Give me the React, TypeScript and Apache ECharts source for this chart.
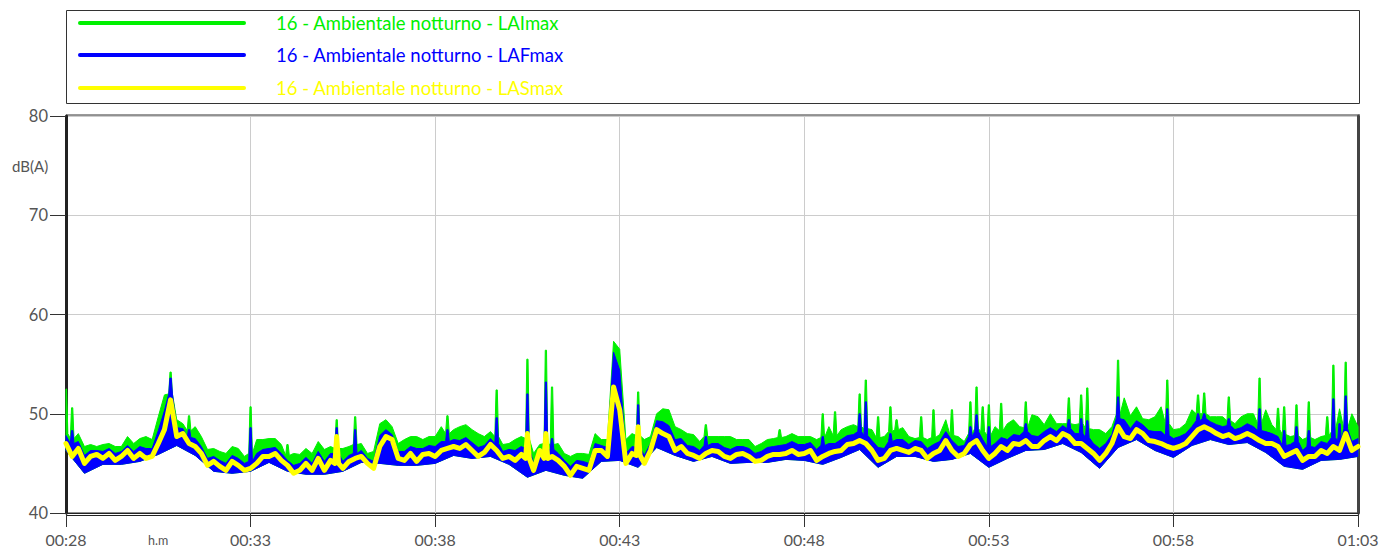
import React, { useEffect, useRef } from "react";
import * as echarts from "echarts";

// ---- time axis (seconds from 00:28:00) ----
const STEP_S = 10;
const LOW_STEP_S = 30;
const X_MAX_S = 2100;
const X_TICK_S = 300;
const X_LABELS = ["00:28", "00:33", "00:38", "00:43", "00:48", "00:53", "00:58", "01:03"];
const Y_MIN = 40;
const Y_MAX = 80;
const Y_STEP = 10;

const NAMES = [
  "16 - Ambientale notturno - LAImax",
  "16 - Ambientale notturno - LAFmax",
  "16 - Ambientale notturno - LASmax",
];
const COLORS = ["#00f000", "#0000ff", "#ffff00"];

// ---- LAImax (green) upper envelope, every 10 s ----
const LAI_BASE = [
  48.0, 47.5, 48.0, 46.7, 46.9, 46.7, 46.9, 47.0, 46.7, 46.7,
  47.7, 47.0, 47.5, 47.7, 47.4, 49.7, 51.9, 52.0, 49.4, 49.0,
  48.3, 48.7, 47.7, 46.4, 46.5, 46.2, 46.0, 46.7, 46.5, 45.7,
  46.0, 47.4, 47.4, 47.5, 47.5, 46.9, 45.8, 46.0, 45.9, 46.5,
  46.0, 47.2, 46.4, 46.7, 46.5, 46.5, 46.7, 46.9, 47.0, 46.0,
  46.2, 49.0, 49.4, 48.7, 47.0, 47.4, 47.7, 47.7, 47.4, 47.7,
  47.7, 48.7, 48.0, 48.4, 48.7, 48.9, 48.4, 48.0, 47.7, 48.2,
  47.7, 46.9, 47.0, 47.4, 47.7, 47.5, 46.0, 46.9, 47.0, 46.9,
  47.0, 46.0, 45.7, 46.0, 46.0, 45.9, 48.0, 47.4, 47.4, 57.3,
  56.5, 47.4, 48.0, 47.8, 47.4, 47.7, 50.0, 50.5, 50.4, 48.7,
  48.4, 48.0, 47.9, 47.2, 47.7, 47.7, 47.7, 47.7, 47.7, 47.4,
  47.4, 47.4, 46.7, 47.0, 47.4, 47.5, 47.6, 47.7, 48.0, 47.7,
  47.7, 47.7, 47.4, 47.6, 48.7, 47.8, 48.4, 48.7, 48.9, 48.7,
  48.5, 48.4, 47.6, 47.7, 48.2, 48.4, 48.6, 47.7, 47.5, 47.6,
  47.4, 47.6, 47.9, 49.4, 47.8, 47.7, 47.2, 48.0, 48.5, 48.2,
  47.8, 48.7, 48.3, 49.0, 49.4, 48.7, 48.6, 49.9, 49.7, 48.9,
  50.0, 49.0, 49.0, 49.0, 48.9, 49.0, 48.5, 48.4, 48.4, 48.0,
  48.7, 49.9, 51.6, 49.8, 50.7, 49.5, 49.4, 49.7, 50.7, 49.0,
  48.4, 48.5, 49.0, 50.4, 50.0, 50.0, 49.7, 49.7, 49.7, 49.3,
  49.0, 49.7, 50.0, 50.0, 49.0, 50.4, 48.9, 48.4, 47.9, 47.7,
  47.8, 47.4, 47.6, 47.4, 47.7, 47.8, 48.2, 50.5, 48.5, 50.0,
  48.7,
];
// [sample index, peak dB]
const LAI_SPIKES: [number, number][] = [
  [0, 52.5], [1, 50.6], [17, 54.2], [20, 49.8], [30, 50.7], [36, 46.9], [44, 49.4], [47, 49.7],
  [62, 49.8], [70, 52.4], [75, 55.5], [78, 56.4], [79, 52.7], [93, 52.2], [104, 48.9], [116, 48.4],
  [123, 50.0], [125, 50.2], [129, 52.0], [130, 53.4], [132, 49.7], [134, 50.7], [135, 49.4],
  [139, 49.7], [141, 50.4], [144, 50.4], [147, 51.2], [148, 52.7], [149, 50.7], [150, 50.9],
  [152, 51.05], [156, 51.2], [163, 51.6], [165, 51.9], [166, 52.6], [171, 55.4], [179, 53.4],
  [184, 51.9], [185, 52.1], [189, 51.7], [194, 53.6], [197, 50.55], [198, 50.7], [200, 50.9],
  [202, 51.2], [205, 49.7], [206, 54.9], [208, 55.2],
];

// ---- LAFmax (blue) upper envelope, every 10 s ----
const LAF_BASE = [
  47.8, 47.0, 47.2, 45.8, 46.3, 46.3, 46.2, 46.5, 46.0, 46.2,
  46.8, 46.2, 46.7, 46.5, 46.5, 48.3, 50.3, 52.0, 48.6, 48.5,
  47.6, 47.5, 46.7, 45.5, 45.7, 45.3, 45.0, 45.8, 45.5, 45.0,
  45.2, 46.0, 46.4, 46.5, 46.6, 46.0, 45.3, 44.8, 45.0, 45.6,
  45.0, 46.2, 45.2, 46.0, 46.0, 45.2, 45.8, 46.0, 46.3, 45.5,
  45.2, 47.8, 48.4, 47.9, 46.2, 46.2, 46.7, 46.5, 46.5, 46.8,
  46.7, 47.2, 47.2, 47.4, 47.3, 47.6, 47.1, 46.6, 46.8, 47.5,
  47.0, 46.2, 46.4, 46.3, 46.7, 46.5, 45.0, 46.3, 46.3, 46.4,
  46.0, 45.3, 44.7, 45.3, 45.2, 45.0, 47.0, 46.8, 46.6, 56.2,
  54.4, 46.0, 46.7, 46.6, 45.8, 47.0, 49.3, 49.2, 48.8, 47.4,
  47.5, 46.8, 46.7, 46.3, 46.8, 47.0, 47.0, 46.6, 46.4, 46.7,
  46.7, 46.5, 46.0, 46.2, 46.6, 46.7, 46.8, 46.9, 47.2, 46.9,
  46.9, 47.1, 46.4, 46.8, 47.0, 47.0, 47.4, 47.8, 47.9, 48.2,
  47.8, 47.3, 46.6, 46.5, 47.2, 47.4, 47.4, 46.9, 47.3, 47.2,
  46.5, 46.9, 47.2, 48.2, 47.3, 46.7, 46.8, 47.7, 48.2, 47.4,
  46.7, 47.0, 47.6, 47.4, 47.9, 47.8, 48.2, 47.8, 47.7, 48.2,
  48.6, 48.2, 48.8, 48.5, 48.0, 48.0, 47.6, 47.0, 46.5, 47.0,
  47.9, 49.5, 49.4, 48.5, 49.3, 48.9, 48.3, 48.2, 48.2, 47.8,
  47.5, 47.7, 48.0, 48.7, 49.3, 49.5, 49.2, 48.9, 48.7, 48.8,
  48.4, 48.6, 49.0, 48.7, 48.3, 48.2, 48.0, 47.7, 46.8, 46.9,
  47.2, 46.3, 46.7, 46.6, 47.2, 47.0, 47.6, 47.3, 48.5, 47.2,
  47.5,
];
const LAF_SPIKES: [number, number][] = [
  [1, 48.3], [17, 53.6], [20, 48.4], [30, 48.6], [44, 48.6], [47, 48.4], [62, 48.4], [70, 49.6],
  [75, 52.0], [78, 53.2], [79, 47.5], [93, 50.9], [104, 47.7], [123, 47.7], [129, 50.0], [130, 51.2],
  [134, 48.0], [147, 48.7], [148, 49.9], [150, 48.7], [156, 49.0], [163, 49.4], [165, 49.5],
  [166, 49.3], [171, 51.7], [179, 50.5], [184, 50.0], [185, 50.0], [189, 49.5], [194, 50.5],
  [198, 48.3], [200, 48.7], [202, 48.3], [206, 51.5], [207, 49.0], [208, 51.8],
];

// ---- lower envelope of the LAFmax trace, every 30 s ----
const LAF_LOW = [
  46.3, 44.0, 44.9, 44.9, 45.2, 45.9, 46.8, 45.8, 44.2, 44.0,
  44.2, 45.1, 44.2, 43.9, 43.9, 44.2, 45.1, 45.0, 44.8, 44.8,
  45.0, 45.8, 45.5, 45.7, 44.9, 43.6, 44.3, 43.8, 43.5, 45.2,
  45.3, 44.6, 46.6, 45.8, 45.2, 45.7, 45.0, 45.1, 45.1, 45.4,
  45.3, 44.9, 45.6, 46.4, 44.6, 45.7, 45.7, 45.2, 45.4, 46.0,
  44.6, 45.5, 46.3, 46.4, 47.0, 46.1, 44.5, 46.6, 47.4, 46.3,
  45.6, 46.8, 47.4, 46.9, 47.1, 46.1, 44.7, 44.4, 45.3, 45.4,
  45.7,
];

// ---- LASmax (yellow), every 10 s ----
const LAS_BASE = [
  47.0, 45.7, 46.5, 45.0, 45.7, 45.9, 45.5, 46.0, 45.3, 45.7,
  46.3, 45.5, 46.0, 45.5, 45.7, 47.0, 48.4, 51.4, 47.7, 48.0,
  47.0, 46.7, 46.0, 44.8, 45.2, 44.7, 44.3, 45.2, 44.8, 44.3,
  44.5, 45.0, 45.7, 45.7, 46.0, 45.3, 44.8, 44.0, 44.3, 45.0,
  44.3, 45.5, 44.3, 45.3, 45.0, 44.5, 45.2, 45.5, 45.7, 45.0,
  44.5, 46.7, 47.7, 47.4, 45.5, 45.3, 46.0, 45.2, 45.9, 46.0,
  45.7, 46.3, 46.5, 46.7, 46.5, 46.9, 46.3, 45.7, 46.1, 46.9,
  46.3, 45.5, 45.7, 45.3, 45.9, 45.5, 44.3, 46.3, 45.5, 45.7,
  45.3, 44.7, 43.8, 44.7, 44.5, 44.3, 46.3, 46.3, 45.7, 52.7,
  50.4, 45.0, 46.0, 45.8, 45.0, 46.3, 48.4, 48.0, 47.7, 46.3,
  46.7, 46.0, 45.8, 45.5, 46.0, 46.3, 46.2, 45.7, 45.5, 45.9,
  46.0, 45.7, 45.2, 45.3, 45.7, 45.9, 45.9, 46.0, 46.3, 45.9,
  46.0, 46.3, 45.3, 45.7, 46.0, 46.2, 46.3, 46.9, 47.0, 47.3,
  47.0, 46.3, 45.3, 45.5, 46.3, 46.5, 46.3, 46.1, 46.5, 46.3,
  45.5, 46.0, 46.3, 47.3, 46.3, 45.7, 46.0, 46.9, 47.3, 46.3,
  45.5, 46.0, 46.7, 46.3, 47.0, 46.9, 47.3, 46.7, 46.7, 47.3,
  47.7, 47.3, 48.0, 47.7, 47.0, 47.0, 46.5, 46.0, 45.3, 46.0,
  47.0, 48.7, 47.7, 47.5, 48.4, 48.0, 47.3, 47.2, 47.0, 46.7,
  46.5, 46.7, 47.0, 47.7, 48.4, 48.7, 48.4, 48.0, 47.7, 47.9,
  47.5, 47.7, 48.0, 47.7, 47.3, 47.0, 47.0, 46.7, 45.7, 46.0,
  46.3, 45.3, 45.7, 45.7, 46.3, 46.0, 46.7, 46.3, 48.0, 46.3,
  46.7,
];
const LAS_SPIKES: [number, number][] = [[44, 47.7], [75, 48.0], [78, 48.0], [93, 48.7]];

const FONT = "Lato, 'DejaVu Sans', sans-serif";

// flatTop: spike drawn as a narrow bar; otherwise as a sharp peak
function tracePoints(base: number[], spikes: [number, number][], flatTop: boolean): number[][] {
  const m = new Map<number, number>(spikes);
  const pts: number[][] = [];
  base.forEach((v, i) => {
    const t = i * STEP_S;
    const p = m.get(i);
    if (p === undefined) {
      pts.push([t, v]);
    } else if (flatTop) {
      pts.push(
        [Math.max(0, t - 3), v],
        [Math.max(0, t - 1), p],
        [Math.min(X_MAX_S, t + 1), p],
        [Math.min(X_MAX_S, t + 3), v]
      );
    } else {
      pts.push([Math.max(0, t - 3), v], [t, p], [Math.min(X_MAX_S, t + 3), v]);
    }
  });
  return pts;
}

function lowPoints(): number[][] {
  return LAF_LOW.map((v, j) => [Math.min(X_MAX_S, j * LOW_STEP_S), v]).reverse();
}

function bandSeries(name: string, color: string, base: number[], spikes: [number, number][]) {
  const poly = tracePoints(base, spikes, true).concat(lowPoints());
  return {
    type: "custom",
    name,
    coordinateSystem: "cartesian2d",
    silent: true,
    data: [[0, Y_MIN]],
    encode: { x: 0, y: 1 },
    renderItem: (_params: any, api: any) => ({
      type: "polygon",
      shape: { points: poly.map((p) => api.coord(p)) },
      style: { fill: color, stroke: color, lineWidth: 1 },
    }),
  };
}

export default function App() {
  const ref = useRef<HTMLDivElement>(null);

  useEffect(() => {
    if (!ref.current) return;
    const chart = echarts.init(ref.current, undefined, { renderer: "svg" });

    const legendY = [23, 55, 88];
    const legendGraphics: any[] = [
      {
        type: "rect",
        shape: { x: 66.5, y: 10.5, width: 1293, height: 93 },
        style: { fill: "none", stroke: "#333", lineWidth: 1 },
        silent: true,
      },
    ];
    NAMES.forEach((n, k) => {
      legendGraphics.push({
        type: "line",
        shape: { x1: 80, y1: legendY[k], x2: 244, y2: legendY[k] },
        style: { stroke: COLORS[k], lineWidth: 4, lineCap: "round" },
        silent: true,
      });
      legendGraphics.push({
        type: "text",
        x: 276,
        y: legendY[k],
        style: {
          text: n,
          fill: COLORS[k],
          font: `18.5px ${FONT}`,
          textVerticalAlign: "middle",
          verticalAlign: "middle",
        },
        silent: true,
      });
    });

    const option: any = {
      animation: false,
      backgroundColor: "#ffffff",
      grid: {
        left: 66,
        right: 26,
        top: 116,
        bottom: 37,
        show: true,
        borderColor: "#222",
        borderWidth: 1,
        backgroundColor: "transparent",
      },
      xAxis: {
        type: "value",
        min: 0,
        max: X_MAX_S,
        interval: X_TICK_S,
        axisLine: { show: true, lineStyle: { color: "#222", width: 1 } },
        axisTick: { show: true, length: 14, lineStyle: { color: "#333" } },
        axisLabel: {
          formatter: (v: number) => X_LABELS[Math.round(v / X_TICK_S)] ?? "",
          color: "#555",
          fontSize: 16,
          fontFamily: FONT,
          margin: 18,
        },
        splitLine: { show: true, lineStyle: { color: "#cccccc", width: 1 } },
      },
      yAxis: [
        {
          type: "value",
          min: Y_MIN,
          max: Y_MAX,
          interval: Y_STEP,
          axisLine: { show: true, lineStyle: { color: "#222", width: 3 } },
          axisTick: { show: true, length: 16, lineStyle: { color: "#333" } },
          axisLabel: { color: "#555", fontSize: 16.5, fontFamily: FONT, margin: 18 },
          splitLine: { show: true, lineStyle: { color: "#cccccc", width: 1 } },
        },
        {
          type: "value",
          position: "right",
          min: Y_MIN,
          max: Y_MAX,
          interval: Y_STEP,
          axisLine: { show: true, lineStyle: { color: "#444", width: 3 } },
          axisTick: { show: false },
          axisLabel: { show: false },
          splitLine: { show: false },
        },
      ],
      graphic: [
        ...legendGraphics,
        {
          type: "line",
          shape: { x1: 66, y1: 114.5, x2: 1360, y2: 114.5 },
          style: { stroke: "#999", lineWidth: 1 },
          silent: true,
        },
        {
          type: "line",
          shape: { x1: 66, y1: 515.5, x2: 1358, y2: 515.5 },
          style: { stroke: "#222", lineWidth: 1 },
          silent: true,
        },
        {
          type: "text",
          x: 12,
          y: 166,
          style: { text: "dB(A)", fill: "#555", font: `15px ${FONT}`, textVerticalAlign: "middle", verticalAlign: "middle" },
          silent: true,
        },
        {
          type: "text",
          x: 148,
          y: 540,
          style: { text: "h.m", fill: "#555", font: `12.5px ${FONT}`, textVerticalAlign: "middle", verticalAlign: "middle" },
          silent: true,
        },
      ],
      series: [
        bandSeries(NAMES[0], COLORS[0], LAI_BASE, LAI_SPIKES),
        bandSeries(NAMES[1], COLORS[1], LAF_BASE, LAF_SPIKES),
        {
          type: "line",
          name: NAMES[2],
          data: tracePoints(LAS_BASE, LAS_SPIKES, false),
          showSymbol: false,
          symbol: "none",
          silent: true,
          lineStyle: { color: COLORS[2], width: 5, join: "round", cap: "round" },
        },
      ],
    };

    chart.setOption(option);
    return () => {
      chart.dispose();
    };
  }, []);

  return (
    <div
      ref={ref}
      style={{ position: "absolute", left: 0, top: 0, width: 1384, height: 550, background: "#fff" }}
    />
  );
}
